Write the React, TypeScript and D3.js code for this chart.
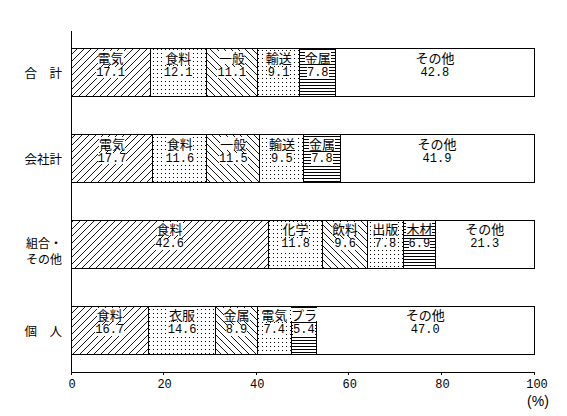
import React, { useEffect, useRef } from 'react'
import * as d3 from 'd3'

// rows (top to bottom)
const rowLabels = ['合　計', '会社計', '組合・\nその他', '個　人']
const rowNames = [
    ['電気', '食料', '一般', '輸送', '金属', 'その他'],
    ['電気', '食料', '一般', '輸送', '金属', 'その他'],
    ['食料', '化学', '飲料', '出版', '木材', 'その他'],
    ['食料', '衣服', '金属', '電気', 'プラ', 'その他']
]
const rowValues = [
    [17.1, 12.1, 11.1, 9.1, 7.8, 42.8],
    [17.7, 11.6, 11.5, 9.5, 7.8, 41.9],
    [42.6, 11.8, 9.6, 7.8, 6.9, 21.3],
    [16.7, 14.6, 8.9, 7.4, 5.4, 47.0]
]
const xTicks = [0, 20, 40, 60, 80, 100]
// fill by position within the bar
const fills = ['url(#hatchF)', 'url(#dots)', 'url(#hatchB)', 'url(#dots2)', 'url(#hlines)', 'white']

const W = 567
const H = 416
const JP = '"Noto Sans CJK JP", sans-serif'
const NUM = '"Liberation Mono", "DejaVu Sans Mono", monospace'

const App: React.FC = () => {
    const ref = useRef<any>()
    useEffect(() => {
        const svg = d3.select(ref.current)
        svg.selectAll('*').remove()

        const x = d3.scaleLinear().domain([0, 100]).range([71, 534])
        const y = d3
            .scaleBand()
            .domain(rowLabels)
            .range([31, 372])
            .paddingInner(0.44)
            .paddingOuter(0.21)

        const defs = svg.append('defs')
        const pat = (id: string, w: number, h: number) =>
            defs
                .append('pattern')
                .attr('id', id)
                .attr('patternUnits', 'userSpaceOnUse')
                .attr('width', w)
                .attr('height', h)
        pat('hatchF', 7, 7)
            .append('path')
            .attr('d', 'M-1,1 l2,-2 M0,7 l7,-7 M6,8 l2,-2')
            .attr('stroke', 'black')
            .attr('stroke-width', 0.9)
        pat('hatchB', 7, 7)
            .append('path')
            .attr('d', 'M-1,6 l2,2 M0,0 l7,7 M6,-1 l2,2')
            .attr('stroke', 'black')
            .attr('stroke-width', 0.9)
        pat('dots', 4, 4)
            .append('rect')
            .attr('x', 1)
            .attr('y', 1)
            .attr('width', 1)
            .attr('height', 1)
            .attr('fill', 'black')
        pat('dots2', 4, 4)
            .append('rect')
            .attr('x', 2)
            .attr('y', 2)
            .attr('width', 1)
            .attr('height', 1)
            .attr('fill', 'black')
        pat('hlines', 3, 3)
            .append('rect')
            .attr('x', 0)
            .attr('y', 1)
            .attr('width', 3)
            .attr('height', 1)
            .attr('fill', 'black')

        // bars
        rowLabels.forEach((row, ri) => {
            const vals = rowValues[ri]
            const starts = vals.map((_, i) => d3.sum(vals.slice(0, i)))
            const segs = vals.map((v, i) => ({
                v,
                name: rowNames[ri][i],
                s: starts[i],
                i
            }))
            const g = svg.append('g')
            const top = y(row) as number
            g.selectAll('rect.seg')
                .data(segs)
                .join('rect')
                .attr('class', 'seg')
                .attr('x', (d) => x(d.s))
                .attr('y', top)
                .attr('width', (d) => x(d.s + d.v) - x(d.s))
                .attr('height', y.bandwidth())
                .attr('fill', (d) => fills[d.i])
                .attr('stroke', 'black')
                .attr('stroke-width', 1)

            segs.forEach((d) => {
                const cx = (x(d.s) + x(d.s + d.v)) / 2
                const lines = [
                    { t: d.name, dy: 8.5, f: JP, fs: 13, h: 13 },
                    { t: d.v.toFixed(1), dy: 24, f: NUM, fs: 12, h: 11 }
                ]
                lines.forEach((l) => {
                    const t = g
                        .append('text')
                        .attr('x', cx)
                        .attr('y', top + l.dy)
                        .attr('text-anchor', 'middle')
                        .attr('dominant-baseline', 'central')
                        .attr('font-family', l.f)
                        .attr('font-size', l.fs)
                        .text(l.t)
                    const b = (t.node() as SVGTextElement).getBBox()
                    const ry = Math.max(top + 1, top + l.dy - l.h / 2)
                    g.insert('rect', () => t.node() as any)
                        .attr('x', b.x)
                        .attr('y', ry)
                        .attr('width', b.width)
                        .attr('height', top + l.dy + l.h / 2 - ry)
                        .attr('fill', 'white')
                })
            })

            // row label
            const parts = row.split('\n')
            const cy = top + y.bandwidth() / 2
            parts.forEach((p, k) => {
                svg.append('text')
                    .attr('x', 62)
                    .attr('y', parts.length > 1 ? cy - 1.5 + k * 15.5 : cy)
                    .attr('text-anchor', 'end')
                    .attr('dominant-baseline', 'central')
                    .attr('font-family', JP)
                    .attr('font-size', parts.length > 1 ? 12 : 12.5)
                    .text(p)
            })
        })

        // axes
        svg.append('line')
            .attr('x1', 71)
            .attr('x2', 71)
            .attr('y1', 31)
            .attr('y2', 372)
            .attr('stroke', 'black')
        svg.append('line')
            .attr('x1', 71)
            .attr('x2', 534)
            .attr('y1', 372)
            .attr('y2', 372)
            .attr('stroke', 'black')
        svg.selectAll('line.tick')
            .data(xTicks)
            .join('line')
            .attr('class', 'tick')
            .attr('x1', (d) => x(d))
            .attr('x2', (d) => x(d))
            .attr('y1', 372)
            .attr('y2', 375)
            .attr('stroke', 'black')
        svg.selectAll('text.tick')
            .data(xTicks)
            .join('text')
            .attr('class', 'tick')
            .attr('x', (d) => x(d) + (d === 100 ? 3 : 1))
            .attr('y', 385)
            .attr('text-anchor', 'middle')
            .attr('dominant-baseline', 'central')
            .attr('font-family', NUM)
            .attr('font-size', 12)
            .text((d) => d)
        svg.append('text')
            .attr('x', 538)
            .attr('y', 401)
            .attr('text-anchor', 'middle')
            .attr('dominant-baseline', 'central')
            .attr('font-family', '"Liberation Sans", sans-serif')
            .attr('font-size', 14)
            .text('(%)')
    }, [])
    return (
        <div style={{ position: 'absolute', left: 0, top: 0, width: W, height: H, background: 'white' }}>
            <svg ref={ref} width={W} height={H} viewBox={`0 0 ${W} ${H}`} shapeRendering='crispEdges'></svg>
        </div>
    )
}

export default App
